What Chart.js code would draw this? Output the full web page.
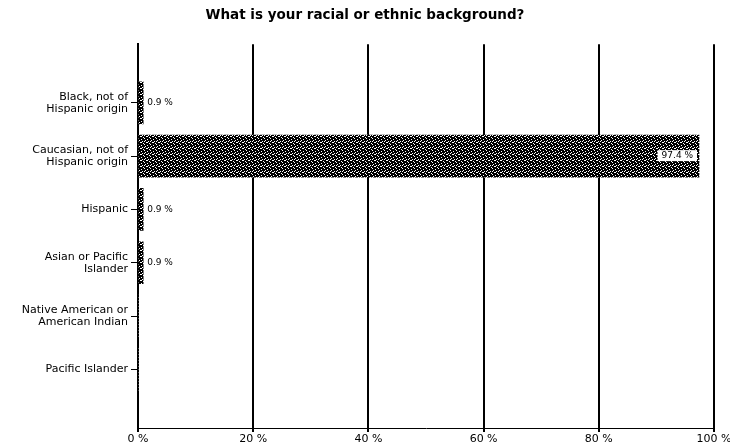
<!DOCTYPE html>
<html>
<head>
<meta charset="utf-8">
<script src="https://cdn.jsdelivr.net/npm/chart.js@4"></script>
<style>
  body { margin: 0; background: #fff; }
  canvas { display: block; }
</style>
</head>
<body>
<canvas id="race-chart" width="730" height="447"></canvas>
<script>
const categories = [
  ["Black, not of", "Hispanic origin"],
  ["Caucasian, not of", "Hispanic origin"],
  "Hispanic",
  ["Asian or Pacific", "Islander"],
  ["Native American or", "American Indian"],
  "Pacific Islander",
];
const percents = [0.9, 97.4, 0.9, 0.9, 0, 0];
const xTicks = [0, 20, 40, 60, 80, 100];

// dithered dark fill like the scanned original
function makePattern() {
  const c = document.createElement("canvas");
  c.width = 6;
  c.height = 6;
  const g = c.getContext("2d");
  g.fillStyle = "#000";
  g.fillRect(0, 0, 6, 6);
  g.fillStyle = "#fff";
  const holes = [[0, 0], [3, 1], [1, 2], [4, 3], [2, 4], [5, 5], [0, 3], [3, 4]];
  holes.forEach(([x, y]) => g.fillRect(x, y, 1, 1));
  return g.createPattern(c, "repeat");
}

const valueLabels = {
  id: "valueLabels",
  afterDatasetsDraw(chart) {
    const ctx = chart.ctx;
    const meta = chart.getDatasetMeta(0);
    ctx.save();
    ctx.font = "9px 'DejaVu Sans'";
    ctx.textBaseline = "middle";
    meta.data.forEach((bar, i) => {
      const v = percents[i];
      if (!v) return;
      const txt = v.toFixed(1) + " %";
      if (v > 50) {
        const w = ctx.measureText(txt).width + 8;
        ctx.fillStyle = "#fff";
        ctx.fillRect(bar.x - w - 2, bar.y - 6, w, 11);
        ctx.fillStyle = "#000";
        ctx.textAlign = "right";
        ctx.fillText(txt, bar.x - 6, bar.y);
      } else {
        ctx.fillStyle = "#000";
        ctx.textAlign = "left";
        ctx.fillText(txt, bar.x + 4, bar.y);
      }
    });
    ctx.restore();
  },
};

const chart = new Chart(document.getElementById("race-chart"), {
  type: "bar",
  data: {
    datasets: [
      {
        data: percents.map((v, i) => ({ x: v, y: i })),
        backgroundColor: makePattern(),
        borderWidth: 0,
        barThickness: 42,
      },
    ],
  },
  options: {
    indexAxis: "y",
    responsive: false,
    animation: false,
    layout: { padding: 0 },
    plugins: {
      legend: { display: false },
      tooltip: { enabled: false },
      title: {
        display: true,
        text: "What is your racial or ethnic background?",
        color: "#000",
        font: { family: "'DejaVu Sans'", size: 13.5, weight: "bold" },
        padding: { top: 7, bottom: 21 },
      },
    },
    scales: {
      x: {
        min: 0,
        max: 100,
        afterBuildTicks: (scale) => {
          scale.ticks = xTicks.map((v) => ({ value: v }));
        },
        afterFit: (scale) => {
          scale.height = 19;
          scale.paddingRight = 16; // let "100 %" run off the edge like the original
        },
        ticks: {
          color: "#000",
          padding: 1,
          font: { family: "'DejaVu Sans'", size: 11 },
          callback: (v) => v + " %",
        },
        grid: { color: "#000", lineWidth: 2, tickLength: 4 },
        border: { color: "#000", width: 1 },
      },
      y: {
        type: "linear",
        reverse: true,
        offset: false,
        min: -1.1,
        max: 6.1,
        afterBuildTicks: (scale) => {
          scale.ticks = categories.map((c, i) => ({ value: i }));
        },
        afterFit: (scale) => {
          scale.width = 138;
        },
        ticks: {
          color: "#000",
          padding: 3,
          font: { family: "'DejaVu Sans'", size: 11, lineHeight: 1.1 },
          callback: (v) => categories[v],
        },
        grid: { offset: false, drawOnChartArea: false, color: "#000", tickLength: 7, lineWidth: 1 },
        border: { color: "#000", width: 2 },
      },
    },
  },
  plugins: [valueLabels],
});
</script>
</body>
</html>
